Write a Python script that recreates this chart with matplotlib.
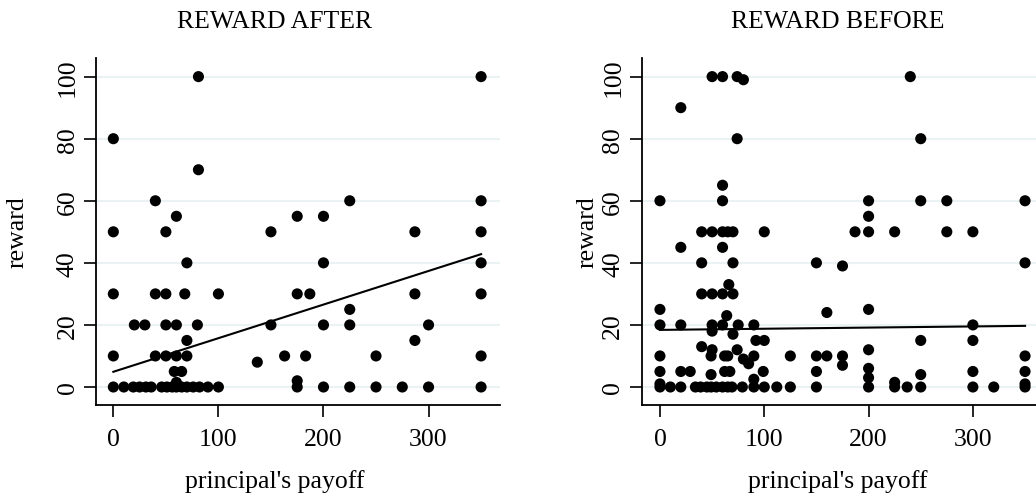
import numpy as np
import matplotlib
matplotlib.use('Agg')
import matplotlib.pyplot as plt

plt.rcParams['font.family'] = ['Liberation Serif', 'DejaVu Serif']

# reward after: principal's payoff vs reward
after_x = [81, 0, 81, 40, 60, 0, 50, 150, 175, 200, 225, 287,
           350, 350, 350, 350, 350, 350, 350,
           70, 0, 40, 50, 68, 100, 20, 30, 50, 60, 80, 70,
           0, 40, 50, 60, 70, 58, 65, 137,
           0, 10, 19, 25, 31, 36, 46, 51, 56, 60, 65, 70, 76, 82, 90, 100, 60,
           200, 175, 187, 287, 225, 150, 200, 225, 300, 287,
           163, 183, 250, 175, 200, 225, 250, 275, 300, 175]
after_y = [100, 80, 70, 60, 55, 50, 50, 50, 55, 55, 60, 50,
           100, 60, 50, 40, 30, 10, 0,
           40, 30, 30, 30, 30, 30, 20, 20, 20, 20, 20, 15,
           10, 10, 10, 10, 10, 5, 5, 8,
           0, 0, 0, 0, 0, 0, 0, 0, 0, 0, 0, 0, 0, 0, 0, 0, 1.5,
           40, 30, 30, 30, 25, 20, 20, 20, 20, 15,
           10, 10, 10, 0, 0, 0, 0, 0, 0, 2]

# reward before
before_x = [50, 60, 74, 80, 20, 74, 60, 0, 60,
            40, 50, 60, 65, 70, 100, 20, 60,
            40, 70, 150, 66, 40, 50, 60, 70, 0, 64, 160,
            0, 20, 50, 60, 75, 90, 50, 70, 92, 100, 40, 50, 74,
            0, 49, 62, 65, 90, 125, 150, 160, 80, 85,
            0, 20, 29, 62, 67, 99, 150, 49, 90,
            0, 10, 20, 34, 39, 45, 49, 54, 60, 65, 69, 79, 90, 100, 112, 125, 150, 0,
            240, 250, 200, 250, 275, 350, 200,
            187, 200, 225, 275, 300, 175, 350, 200, 300, 250, 300, 200,
            175, 350, 175, 200, 300, 350, 200, 250, 225,
            200, 225, 237, 250, 300, 320, 350, 350]
before_y = [100, 100, 100, 99, 90, 80, 65, 60, 60,
            50, 50, 50, 50, 50, 50, 45, 45,
            40, 40, 40, 33, 30, 30, 30, 30, 25, 23, 24,
            20, 20, 20, 20, 20, 20, 18, 17, 15, 15, 13, 12, 12,
            10, 10, 10, 10, 10, 10, 10, 10, 9, 7.5,
            5, 5, 5, 5, 5, 5, 5, 4, 2.5,
            0, 0, 0, 0, 0, 0, 0, 0, 0, 0, 0, 0, 0, 0, 0, 0, 0, 1,
            100, 80, 60, 60, 60, 60, 55,
            50, 50, 50, 50, 50, 39, 40, 25, 20, 15, 15, 12,
            10, 10, 7, 6, 5, 5, 3, 4, 1.5,
            0, 0, 0, 0, 0, 0, 0, 1]

# fitted lines
fit_after_x = [0, 350]
fit_after_y = [4.9, 42.8]
fit_before_x = [0, 350]
fit_before_y = [18.4, 19.7]

yticks = [0, 20, 40, 60, 80, 100]
xticks = [0, 100, 200, 300]

W, H = 1036, 502
fig = plt.figure(figsize=(W / 100, H / 100), dpi=100)

# left px, right px, xlim, data, title, title/xlabel centre px, ylabel px
panels = [
    (96, 500, -16.5, 368, after_x, after_y, fit_after_x, fit_after_y, 'REWARD AFTER', 275, 18),
    (641.7, 1036, -17.5, 360.5, before_x, before_y, fit_before_x, fit_before_y, 'REWARD BEFORE', 838, 588),
]

FS = 18.5
for left, right, xmin, xmax, xs, ys, fx, fy, title, tcx, ylx in panels:
    wpx = right - left
    ax = fig.add_axes([left / W, 1 - 406 / H, wpx / W, (406 - 59) / H])
    ax.set_xlim(xmin, xmax)
    ax.set_ylim(-5.8, 106)
    for yv in yticks:
        ax.axhline(yv, color='#eaf2f3', lw=1.5, zorder=0)
    ax.scatter(xs, ys, s=64, color='black', edgecolors='none', zorder=3, clip_on=False)
    ax.plot(fx, fy, color='black', lw=1.5, zorder=4)
    ax.spines['top'].set_visible(False)
    ax.spines['right'].set_visible(False)
    ax.spines['left'].set_linewidth(1.3)
    ax.spines['bottom'].set_linewidth(1.3)
    ax.set_xticks(xticks)
    ax.set_yticks(yticks)
    ax.set_yticklabels([str(v) for v in yticks], rotation=90, va='center')
    ax.tick_params(axis='both', direction='out', length=8.5, width=1.2, labelsize=FS)
    ax.tick_params(axis='y', pad=4)
    ax.tick_params(axis='x', pad=8)
    ax.set_xlabel("principal's payoff", fontsize=FS, va='center')
    ax.xaxis.set_label_coords((tcx - left) / wpx, -(482 - 406) / 347)
    ax.set_ylabel('reward', fontsize=FS, va='center')
    ax.yaxis.set_label_coords((ylx - left) / wpx, 0.5)
    fig.text(tcx / W, 1 - 22 / H, title, fontsize=18.5, ha='center', va='center')

fig.savefig('out.png', dpi=100)
